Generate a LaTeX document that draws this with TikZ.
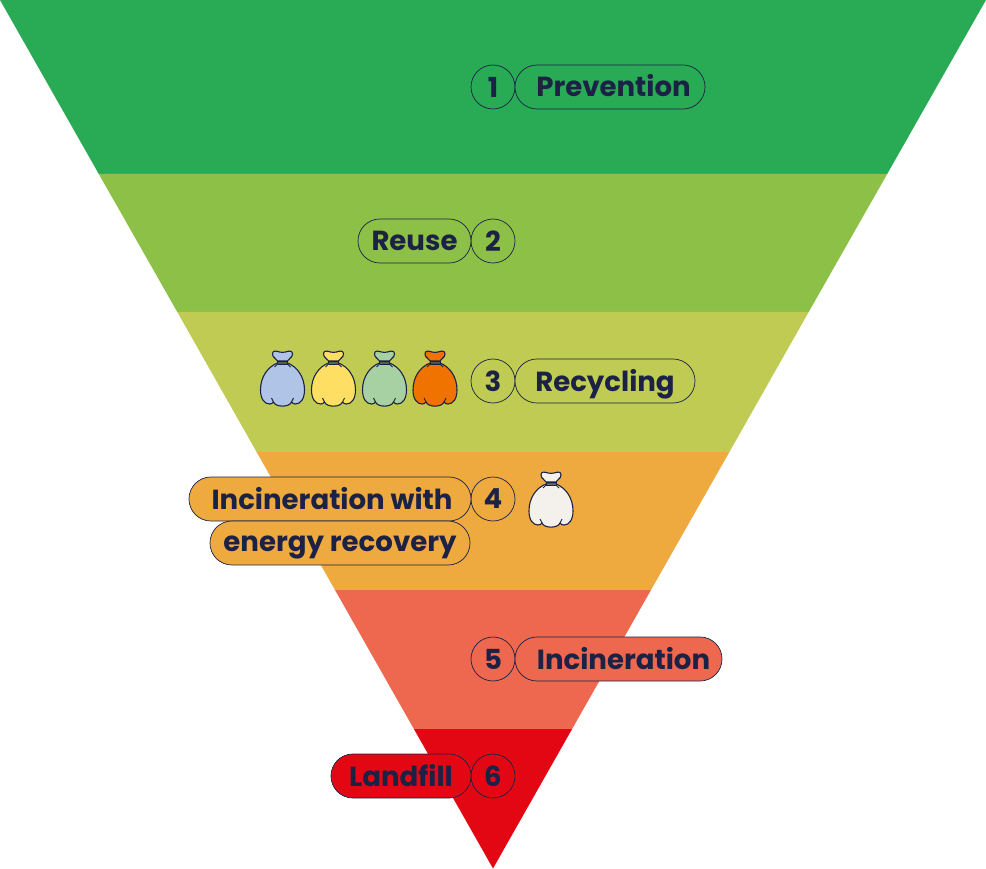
\documentclass[tikz,border=0pt]{standalone}
\usepackage{fontspec}
\setmainfont{Poppins}
\usetikzlibrary{positioning}
\definecolor{ink}{HTML}{1B2245}
\definecolor{bandone}{HTML}{29AB55}
\definecolor{bandtwo}{HTML}{8DC046}
\definecolor{bandthree}{HTML}{BFCB52}
\definecolor{bandfour}{HTML}{EEA93F}
\definecolor{bandfive}{HTML}{ED684E}
\definecolor{bandsix}{HTML}{E30613}
\definecolor{bagblue}{HTML}{AFC4E6}
\definecolor{bagyellow}{HTML}{FFDF63}
\definecolor{baggreen}{HTML}{A8D1A3}
\definecolor{bagorange}{HTML}{F07300}
\definecolor{bagwhite}{HTML}{F4F1EC}
\tikzset{
    numcirc/.style={draw=ink, circle, line width=0.7pt, minimum size=44pt, inner sep=0pt, outer sep=0pt, text=ink, font=\bfseries\fontsize{27.6}{30}\selectfont},
    pill/.style={draw=ink, rounded corners=21.9pt, line width=0.7pt, minimum height=44pt, inner sep=0pt, outer sep=0pt, text=ink, text height=22pt, text depth=2pt, font=\bfseries\fontsize{27.6}{30}\selectfont},
    bag/.pic={
        \draw[ink, line width=1.1pt, fill=#1, line join=round] (-5,2) .. controls (-15,6) and (-22,16) .. (-22,29) .. controls (-22,38) and (-18,43) .. (-13,43) .. controls (-11.5,43) and (-10,42.5) .. (-9,41) .. controls (-7,46.5) and (7,46.5) .. (9,41) .. controls (10,42.5) and (11.5,43) .. (13,43) .. controls (18,43) and (22,38) .. (22,29) .. controls (22,16) and (15,6) .. (5,2) -- cycle;
        \draw[ink, line width=1.1pt, fill=#1, line join=round] (-5,0) .. controls (-6,-3) and (-10,-3) .. (-10,-7) .. controls (-10,-11) and (-6,-10) .. (-3,-9) .. controls (-1,-8.5) and (1,-8.5) .. (3,-9) .. controls (6,-10) and (10,-11) .. (10,-7) .. controls (10,-3) and (6,-3) .. (5,0) -- cycle;
        \draw[ink, line width=0.9pt] (-5,0) -- (5,0) (-5,0) -- (-5,3) (5,0) -- (5,3) (-5,3) -- (5,3);
        \draw[ink, line width=0.9pt] (-11,37) -- (-9,41) (11,37) -- (9,41) (-5,3) -- (-8,6) (5,3) -- (8,6);
    },
    bag/.default=white
}
\begin{document}
\begin{tikzpicture}[x=1pt, y=-1pt]
    \useasboundingbox (0,0) rectangle (986,869);
    % funnel bands
    \fill[bandone] (0,0) -- (986,0) -- (887.2,174) -- (98.8,174) -- cycle;
    \fill[bandtwo] (98.8,174) -- (887.2,174) -- (808.7,312) -- (177.3,312) -- cycle;
    \fill[bandthree] (177.3,312) -- (808.7,312) -- (729.4,452) -- (256.6,452) -- cycle;
    \fill[bandfour] (256.6,452) -- (729.4,452) -- (651,590) -- (335,590) -- cycle;
    \fill[bandfive] (335,590) -- (651,590) -- (572.1,729) -- (413.9,729) -- cycle;
    \fill[bandsix] (413.9,729) -- (572.1,729) -- (493,868.5) -- cycle;

    % numbers and labels
    \node[numcirc] (one) at (493,87) {1};
    \node[pill, fill=bandone, minimum width=190pt, right=0pt of one] (prevention) {\hspace*{7pt}Prevention};
    \node[numcirc] (two) at (493,241) {2};
    \node[pill, fill=bandtwo, minimum width=113pt, left=0pt of two] (reuse) {Reuse};
    \node[numcirc] (three) at (493,381) {3};
    \node[pill, fill=bandthree, minimum width=180pt, right=0pt of three] (recycling) {Recycling};
    \node[numcirc] (four) at (493,499) {4};
    \node[pill, fill=bandfour, minimum width=282pt, left=0pt of four] (incwith) {\hspace*{4pt}Incineration with};
    \node[pill, fill=bandfour, minimum width=260pt, anchor=north east, xshift=-1pt, text height=21pt, text depth=4pt] (energy) at (incwith.south east) {energy recovery};
    \node[numcirc] (five) at (493,659) {5};
    \node[pill, fill=bandfive, minimum width=207pt, right=0pt of five] (incineration) {\hspace*{10pt}Incineration};
    \node[numcirc] (six) at (493,776) {6};
    \node[pill, fill=bandsix, minimum width=140pt, left=0pt of six] (landfill) {Landfill};

    % bags
    \pic at (282.5,361) {bag=bagblue};
    \pic at (333.5,361) {bag=bagyellow};
    \pic at (384.5,361) {bag=baggreen};
    \pic at (435,361) {bag=bagorange};
    \pic at (551,482) {bag=bagwhite};
\end{tikzpicture}
\end{document}
